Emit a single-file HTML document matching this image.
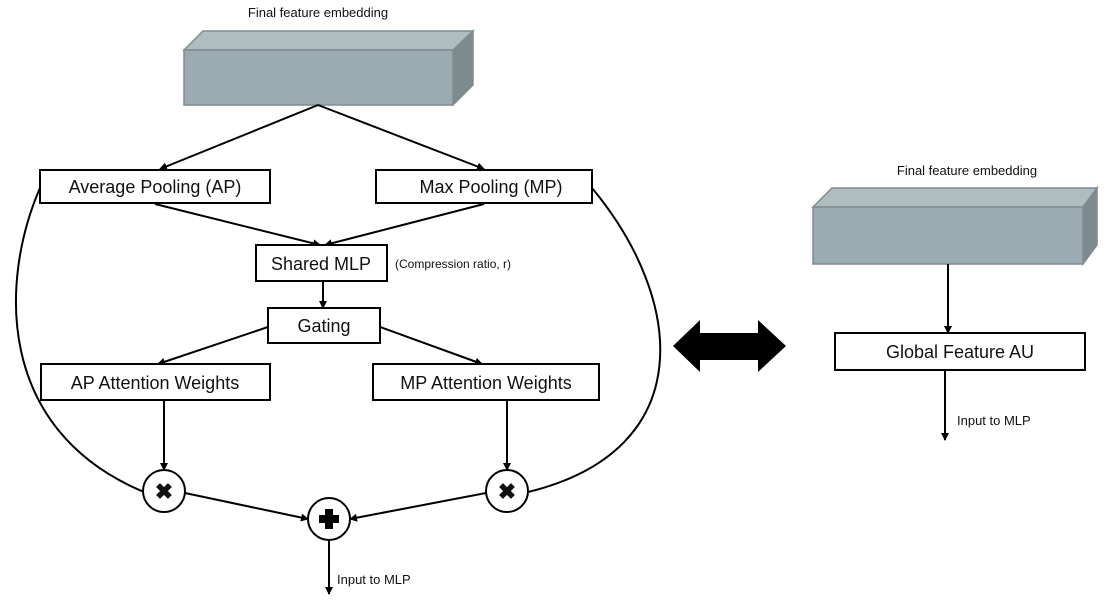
<!DOCTYPE html>
<html><head><style>body{margin:0;background:#fff}svg{display:block}text{font-family:"Liberation Sans",sans-serif;fill:#111}</style></head><body>
<svg width="1107" height="601" viewBox="0 0 1107 601" xmlns="http://www.w3.org/2000/svg">
<defs><marker id="a" markerWidth="8" markerHeight="8" refX="7" refY="4" orient="auto" markerUnits="userSpaceOnUse"><path d="M0,0 L8,4 L0,8 z" fill="#000"/></marker></defs>
<text x="318" y="17" font-size="13" text-anchor="middle">Final feature embedding</text>
<polygon points="184,50 203,31 473,31 453,50" fill="#afbdc1" stroke="#7f8c8f" stroke-width="1.5"/>
<polygon points="453,50 473,31 473,85 453,105" fill="#7e8b8e" stroke="#7f8c8f" stroke-width="1.5"/>
<rect x="184" y="50" width="269" height="55" fill="#9aacb1" stroke="#7f8c8f" stroke-width="1.5"/>
<g stroke="#000" stroke-width="2" fill="none">
<line x1="318" y1="105" x2="160" y2="169" marker-end="url(#a)"/>
<line x1="318" y1="105" x2="484" y2="169" marker-end="url(#a)"/>
<line x1="155" y1="204" x2="320" y2="245" marker-end="url(#a)"/>
<line x1="484" y1="204" x2="325" y2="245" marker-end="url(#a)"/>
<line x1="323" y1="281" x2="323" y2="308" marker-end="url(#a)"/>
<line x1="268" y1="327" x2="158" y2="364" marker-end="url(#a)"/>
<line x1="380" y1="327" x2="482" y2="364" marker-end="url(#a)"/>
<line x1="164" y1="400" x2="164" y2="470" marker-end="url(#a)"/>
<line x1="507" y1="400" x2="507" y2="470" marker-end="url(#a)"/>
<line x1="185" y1="493" x2="308" y2="519" marker-end="url(#a)"/>
<line x1="486" y1="493" x2="350" y2="519" marker-end="url(#a)"/>
<line x1="329" y1="540" x2="329" y2="594" marker-end="url(#a)"/>
<path d="M40,188 C0,280 -5,430 144,492"/>
<path d="M592,188 C685,300 700,450 528,492"/>
</g>
<g stroke="#000" stroke-width="2" fill="#fff">
<rect x="40" y="170" width="230" height="33"/>
<rect x="376" y="170" width="216" height="33"/>
<rect x="256" y="245" width="131" height="36"/>
<rect x="268" y="308" width="112" height="35"/>
<rect x="41" y="364" width="229" height="36"/>
<rect x="373" y="364" width="226" height="36"/>
<circle cx="164" cy="491" r="21"/>
<circle cx="329" cy="519" r="21"/>
<circle cx="507" cy="491" r="21"/>
</g>
<g font-size="18" text-anchor="middle">
<text x="155" y="193">Average Pooling (AP)</text>
<text x="491" y="193">Max Pooling (MP)</text>
<text x="321" y="270">Shared MLP</text>
<text x="324" y="332">Gating</text>
<text x="155" y="389">AP Attention Weights</text>
<text x="486" y="389">MP Attention Weights</text>
</g>
<text x="395" y="268" font-size="12">(Compression ratio, r)</text>
<g font-size="22" font-weight="bold" text-anchor="middle">
<text x="164" y="499">✖</text><text x="507" y="499">✖</text>
</g>
<path d="M325,509 h8 v6 h6 v8 h-6 v6 h-8 v-6 h-6 v-8 h6 z" fill="#000"/>
<text x="337" y="584" font-size="13">Input to MLP</text>
<polygon points="673,346 700,320 700,333 758,333 758,320 786,346 758,372 758,360 700,360 700,372" fill="#000"/>
<text x="967" y="175" font-size="13" text-anchor="middle">Final feature embedding</text>
<polygon points="813,207 832,188 1097,188 1083,207" fill="#afbdc1" stroke="#7f8c8f" stroke-width="1.5"/>
<polygon points="1083,207 1097,188 1097,245 1083,264" fill="#7e8b8e" stroke="#7f8c8f" stroke-width="1.5"/>
<rect x="813" y="207" width="270" height="57" fill="#9aacb1" stroke="#7f8c8f" stroke-width="1.5"/>
<g stroke="#000" stroke-width="2" fill="none">
<line x1="948" y1="264" x2="948" y2="333" marker-end="url(#a)"/>
<line x1="945" y1="370" x2="945" y2="440" marker-end="url(#a)"/>
</g>
<rect x="835" y="333" width="250" height="37" fill="#fff" stroke="#000" stroke-width="2"/>
<text x="960" y="358" font-size="18" text-anchor="middle">Global Feature AU</text>
<text x="957" y="425" font-size="13">Input to MLP</text>
</svg>
</body></html>
